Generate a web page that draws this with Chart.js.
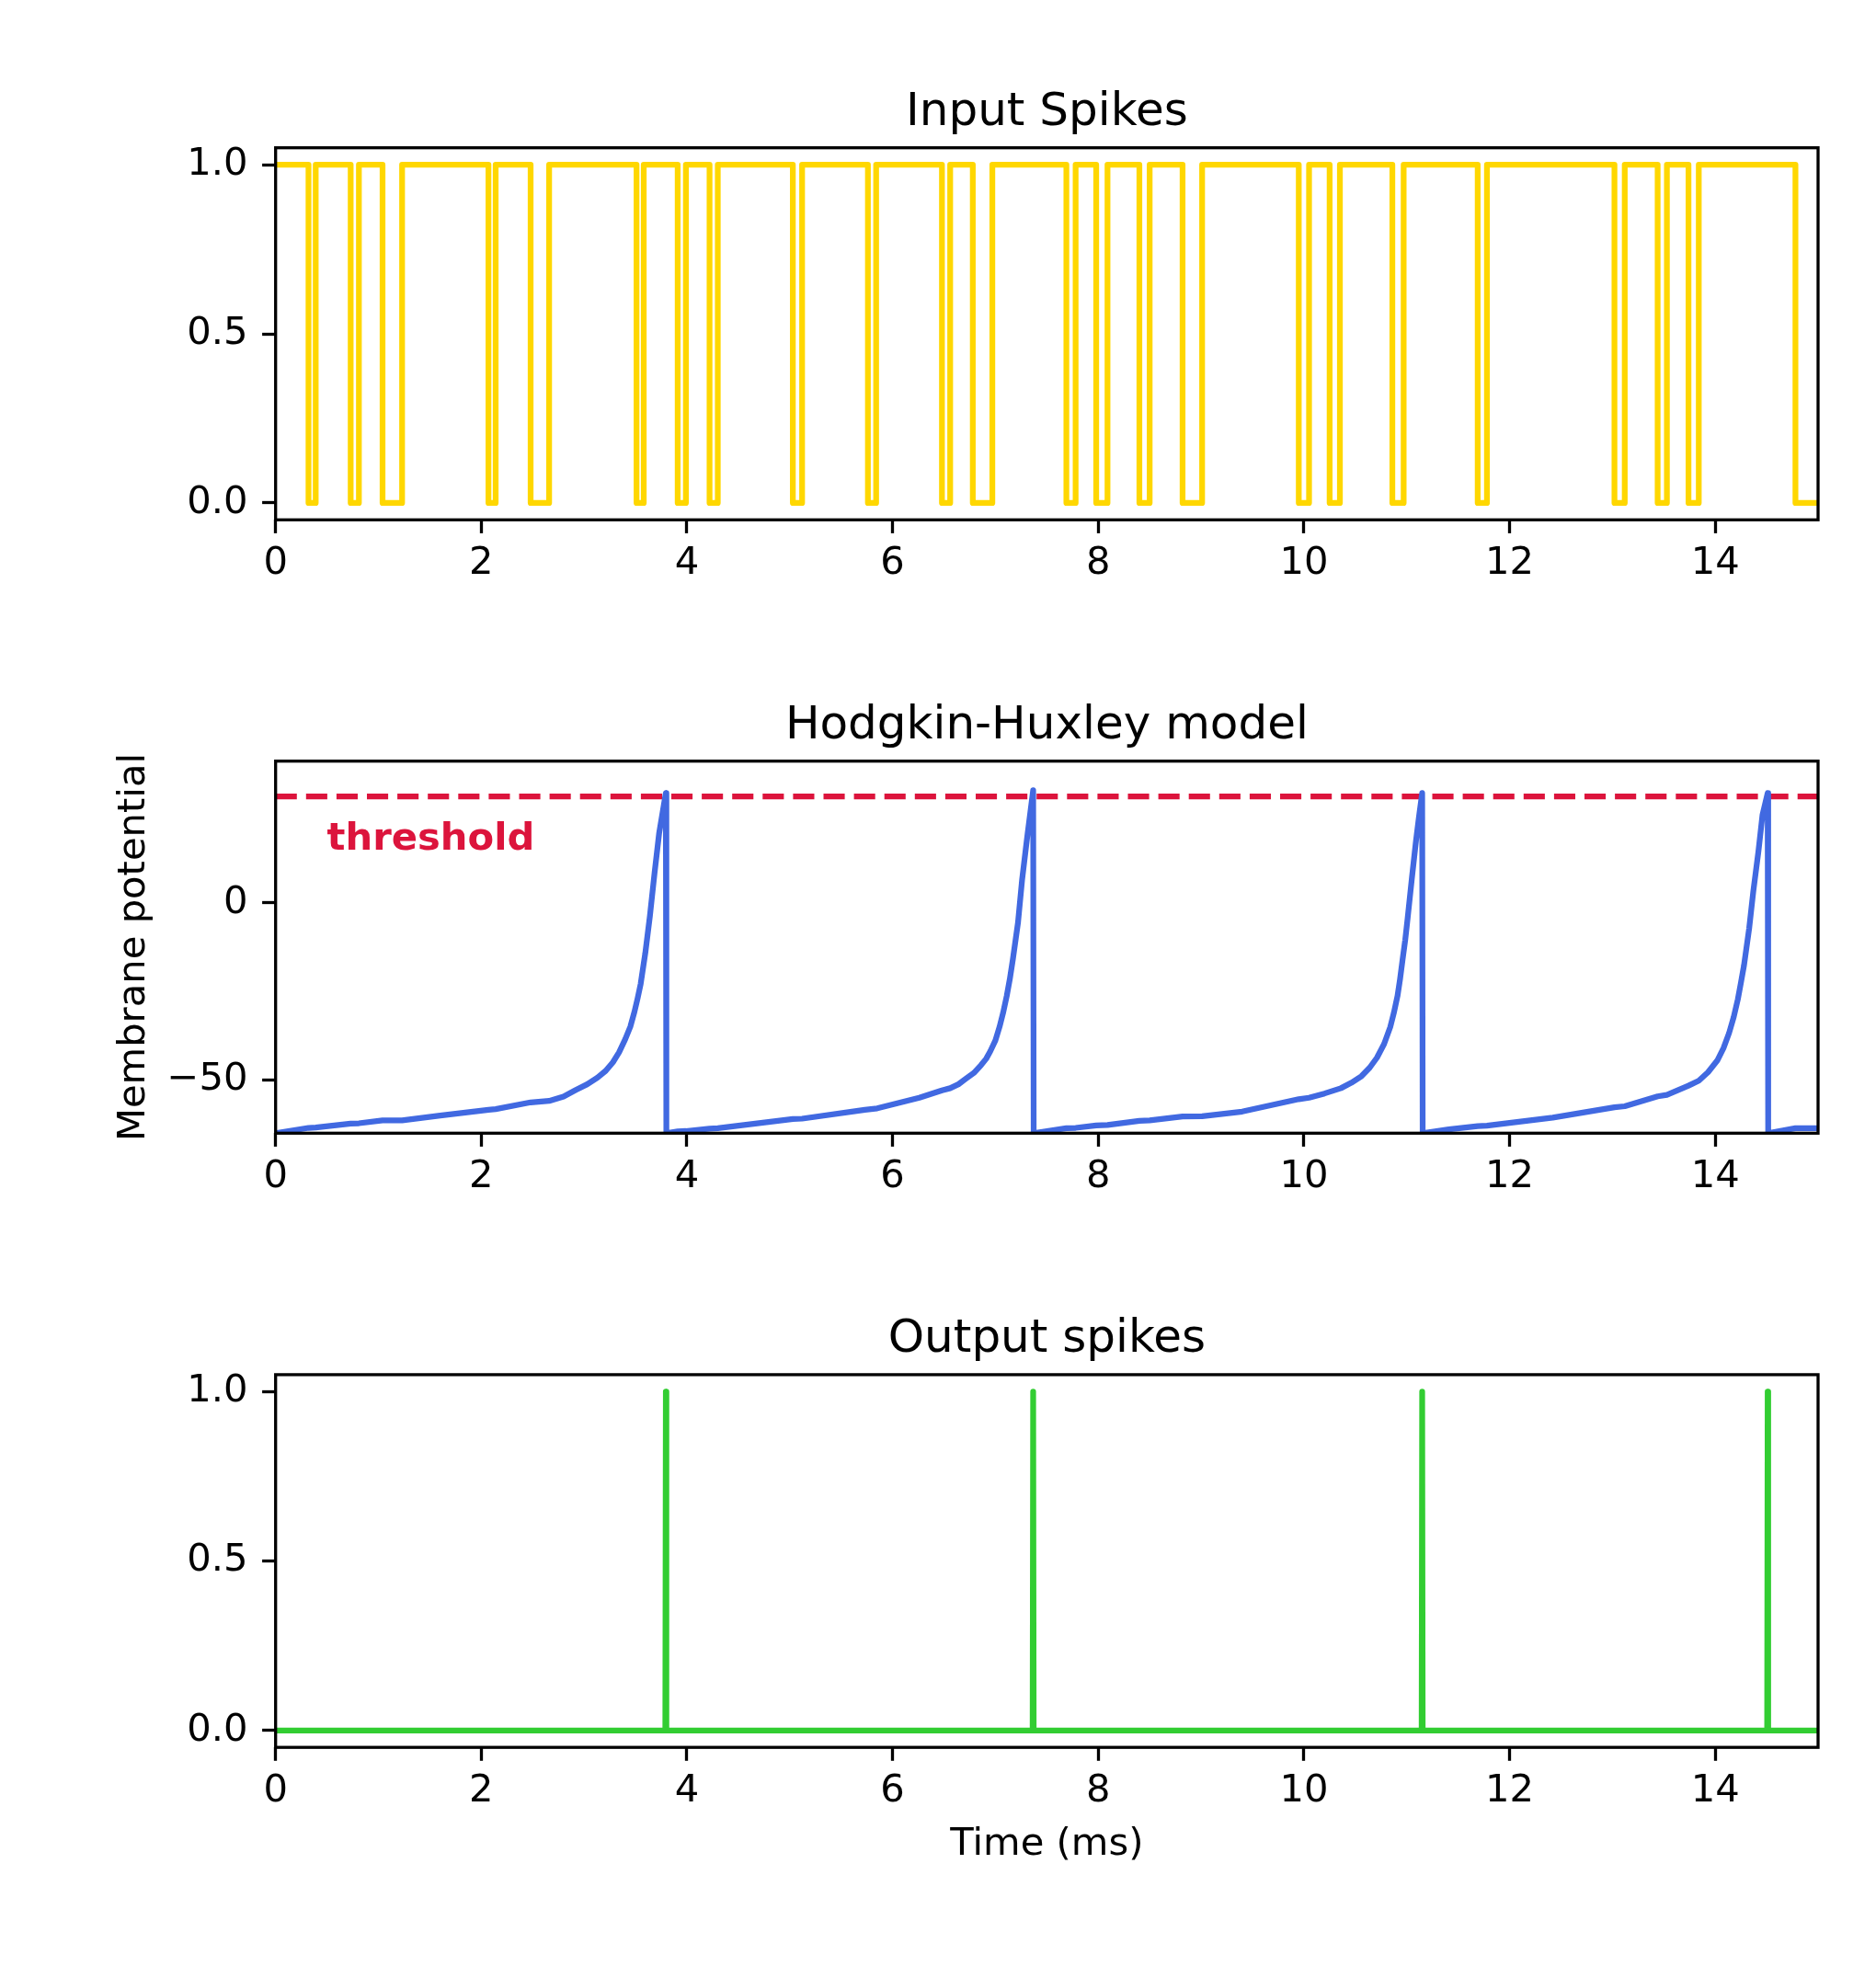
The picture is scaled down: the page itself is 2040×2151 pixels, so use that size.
<!DOCTYPE html>
<html>
<head>
<meta charset="utf-8">
<title>Hodgkin-Huxley model</title>
<script src="https://cdn.jsdelivr.net/npm/chart.js@4.4.0/dist/chart.umd.min.js"></script>
<style>
  html, body { margin: 0; padding: 0; background: #fff; }
  #wrap { position: relative; width: 2040px; height: 2151px; }
  canvas { position: absolute; left: 0; }
</style>
</head>
<body>
<div id="wrap">
  <canvas id="inputChart" width="2040" height="717" style="top:0px"></canvas>
  <canvas id="hhChart" width="2040" height="667" style="top:717px"></canvas>
  <canvas id="outputChart" width="2040" height="767" style="top:1384px"></canvas>
</div>
<script>
// time axis (ms)
var tMin = 0;
var tMax = 15;
var timeTicks = [0, 2, 4, 6, 8, 10, 12, 14];
var spikeTicks = [0, 0.5, 1.0];
var vmTicks = [-50, 0];

// input spike train: where the input drops to 0 and comes back to 1
var inputLowStart = [0.32, 0.73, 1.04, 2.07, 2.48, 3.51, 3.91, 4.22, 5.03, 5.76, 6.48, 6.78,
                     7.69, 7.98, 8.40, 8.82, 9.95, 10.25, 10.86, 11.69, 13.02, 13.44, 13.74, 14.78];
var inputLowEnd   = [0.39, 0.81, 1.23, 2.14, 2.66, 3.58, 3.99, 4.30, 5.12, 5.84, 6.56, 6.97,
                     7.78, 8.09, 8.50, 9.01, 10.05, 10.35, 10.97, 11.78, 13.12, 13.53, 13.84, 15];

// membrane potential trace (one line per firing cycle)
var vmTime = [
  0, 0.32, 0.39, 0.73, 0.81, 1.04, 1.23, 1.60, 2.07, 2.14, 2.48, 2.66, 2.80, 2.92, 3.03, 3.13, 3.21, 3.28, 3.34, 3.40, 3.45, 3.49, 3.52, 3.55, 3.595, 3.64, 3.685, 3.73, 3.795, 3.80,
  3.91, 3.99, 4.22, 4.30, 5.03, 5.12, 5.73, 5.85, 6.26, 6.48, 6.56, 6.64, 6.71, 6.79, 6.86, 6.91, 6.95, 7.00, 7.04, 7.075, 7.11, 7.14, 7.17, 7.22, 7.26, 7.31, 7.367, 7.372,
  7.69, 7.78, 7.98, 8.09, 8.40, 8.50, 8.82, 9.01, 9.40, 9.95, 10.05, 10.20, 10.36, 10.46, 10.56, 10.64, 10.71, 10.78, 10.84, 10.875, 10.91, 10.935, 10.96, 10.985, 11.01, 11.05, 11.09, 11.12, 11.15, 11.155,
  11.41, 11.69, 11.78, 12.42, 13.02, 13.12, 13.44, 13.53, 13.74, 13.84, 13.93, 14.02, 14.08, 14.135, 14.18, 14.22, 14.25, 14.28, 14.33, 14.37, 14.42, 14.46, 14.51, 14.515, 14.78, 15
];
var vmValue = [
  -65, -63.5, -63.4, -62.3, -62.2, -61.4, -61.4, -60.0, -58.4, -58.2, -56.3, -55.9, -54.7, -52.8, -51.2, -49.3, -47.4, -45.0, -42.2, -38.5, -34.9, -30.7, -27.0, -22.9, -14.2, -3.7, 8.4, 19.7, 31.0, -65,
  -64.5, -64.4, -63.7, -63.6, -61.0, -60.9, -58.4, -58.0, -55.0, -52.9, -52.3, -51.2, -49.7, -48.0, -45.8, -44.0, -41.9, -38.8, -35.0, -31.0, -26.3, -21.5, -15.9, -5.5, 6.7, 18.8, 31.8, -65,
  -63.6, -63.5, -62.8, -62.7, -61.5, -61.4, -60.3, -60.2, -58.9, -55.4, -55.0, -53.8, -52.3, -50.8, -48.9, -46.5, -43.7, -39.8, -35.0, -31.0, -26.3, -21.5, -15.9, -10.5, -4.0, 7.0, 17.5, 24.5, 31.0, -65,
  -63.9, -63.0, -62.9, -60.6, -57.7, -57.4, -54.6, -54.2, -51.6, -50.2, -47.8, -44.5, -41.0, -36.7, -32.2, -27.2, -22.5, -17.6, -7.2, 3.2, 14.5, 24.9, 31.0, -65, -63.6, -63.6
];
var threshold = 30;

// output spikes
var outputSpikeTimes = [3.795, 7.367, 11.15, 14.51];

Chart.defaults.font.family = '"DejaVu Sans"';
Chart.defaults.color = '#000';

function buildInputSteps() {
  var pts = [{x: tMin, y: 1}];
  for (var i = 0; i < inputLowStart.length; i++) {
    pts.push({x: inputLowStart[i], y: 1});
    pts.push({x: inputLowStart[i], y: 0});
    pts.push({x: inputLowEnd[i], y: 0});
    if (inputLowEnd[i] < tMax) {
      pts.push({x: inputLowEnd[i], y: 1});
    }
  }
  if (inputLowEnd[inputLowEnd.length - 1] < tMax) {
    pts.push({x: tMax, y: 1});
  }
  return pts;
}

function buildVm() {
  var pts = [];
  for (var i = 0; i < vmTime.length; i++) {
    pts.push({x: vmTime[i], y: vmValue[i]});
  }
  return pts;
}

function buildOutput() {
  var pts = [{x: tMin, y: 0}];
  for (var i = 0; i < outputSpikeTimes.length; i++) {
    var t = outputSpikeTimes[i];
    pts.push({x: t - 0.005, y: 0});
    pts.push({x: t, y: 1});
    pts.push({x: t + 0.005, y: 0});
  }
  pts.push({x: tMax, y: 0});
  return pts;
}

// frame, titles and labels drawn like matplotlib
var decorPlugin = {
  id: 'decor',
  afterDatasetsDraw: function(chart, args, opts) {
    var ctx = chart.ctx;
    var a = chart.chartArea;
    var cx = (a.left + a.right) / 2;
    ctx.save();
    ctx.strokeStyle = '#000';
    ctx.lineWidth = 3.3;
    ctx.strokeRect(a.left, a.top, a.right - a.left, a.bottom - a.top);

    ctx.fillStyle = '#000';
    ctx.textAlign = 'center';
    ctx.textBaseline = 'alphabetic';
    if (opts.title) {
      ctx.font = '50px "DejaVu Sans"';
      ctx.fillText(opts.title, cx, a.top - 24.7);
    }
    if (opts.xlabel) {
      ctx.font = '41.7px "DejaVu Sans"';
      ctx.fillText(opts.xlabel, cx, a.bottom + 117);
    }
    if (opts.note) {
      ctx.font = 'bold 41.7px "DejaVu Sans"';
      ctx.fillStyle = opts.note.color;
      ctx.textAlign = 'left';
      ctx.fillText(opts.note.text,
        chart.scales.x.getPixelForValue(opts.note.x),
        chart.scales.y.getPixelForValue(opts.note.y));
    }
    if (opts.ylabel) {
      ctx.fillStyle = '#000';
      ctx.textAlign = 'center';
      ctx.font = '41.7px "DejaVu Sans"';
      ctx.translate(157, (a.top + a.bottom) / 2);
      ctx.rotate(-Math.PI / 2);
      ctx.fillText(opts.ylabel, 0, 0);
    }
    ctx.restore();
  }
};

function makeScales(yMin, yMax, yTicks, fmt, xHeight) {
  var tickGrid = {
    drawOnChartArea: false,
    drawTicks: true,
    tickLength: 14.6,
    tickWidth: 3.3,
    tickColor: '#000'
  };
  return {
    x: {
      type: 'linear',
      min: tMin,
      max: tMax,
      grid: tickGrid,
      border: {display: false},
      ticks: {font: {size: 41.7}, padding: 8, maxRotation: 0, color: '#000'},
      afterBuildTicks: function(scale) {
        scale.ticks = timeTicks.map(function(v) { return {value: v}; });
      },
      afterFit: function(scale) { scale.height = xHeight; }
    },
    y: {
      type: 'linear',
      min: yMin,
      max: yMax,
      grid: tickGrid,
      border: {display: false},
      ticks: {font: {size: 41.7}, padding: 15.5, color: '#000', callback: fmt},
      afterBuildTicks: function(scale) {
        scale.ticks = yTicks.map(function(v) { return {value: v}; });
      },
      afterFit: function(scale) { scale.width = 299.7; }
    }
  };
}

function spikeFmt(v) { return v.toFixed(1); }
function vmFmt(v) { return String(v).replace('-', '\u2212'); }

function baseOptions(padTop, scales, decor) {
  return {
    responsive: false,
    animation: false,
    devicePixelRatio: 1,
    events: [],
    layout: {padding: {left: 0, right: 63, top: padTop, bottom: 0}},
    scales: scales,
    plugins: {
      legend: {display: false},
      tooltip: {enabled: false},
      decor: decor
    },
    elements: {point: {radius: 0}, line: {tension: 0, borderJoinStyle: 'round'}}
  };
}

new Chart(document.getElementById('inputChart'), {
  type: 'line',
  data: {
    datasets: [{
      data: buildInputSteps(),
      borderColor: '#FFD700',
      borderWidth: 6.25,
      fill: false
    }]
  },
  options: baseOptions(160.7, makeScales(-0.05, 1.05, spikeTicks, spikeFmt, 151.7),
    {title: 'Input Spikes'}),
  plugins: [decorPlugin]
});

new Chart(document.getElementById('hhChart'), {
  type: 'line',
  data: {
    datasets: [{
      data: buildVm(),
      borderColor: '#4169E1',
      borderWidth: 6.25,
      clip: 0,
      fill: false
    }, {
      data: [{x: tMin, y: threshold}, {x: tMax, y: threshold}],
      borderColor: '#DC143C',
      borderWidth: 6.25,
      borderDash: [23.1, 10],
      borderCapStyle: 'butt',
      fill: false
    }]
  },
  options: baseOptions(110.7, makeScales(-65, 40, vmTicks, vmFmt, 151.7), {
    title: 'Hodgkin-Huxley model',
    ylabel: 'Membrane potential',
    note: {text: 'threshold', x: 0.5, y: 15, color: '#DC143C'}
  }),
  plugins: [decorPlugin]
});

new Chart(document.getElementById('outputChart'), {
  type: 'line',
  data: {
    datasets: [{
      data: buildOutput(),
      borderColor: '#32CD32',
      borderWidth: 6.25,
      fill: false
    }]
  },
  options: baseOptions(110.9, makeScales(-0.05, 1.05, spikeTicks, spikeFmt, 250.8), {
    title: 'Output spikes',
    xlabel: 'Time (ms)'
  }),
  plugins: [decorPlugin]
});
</script>
</body>
</html>
